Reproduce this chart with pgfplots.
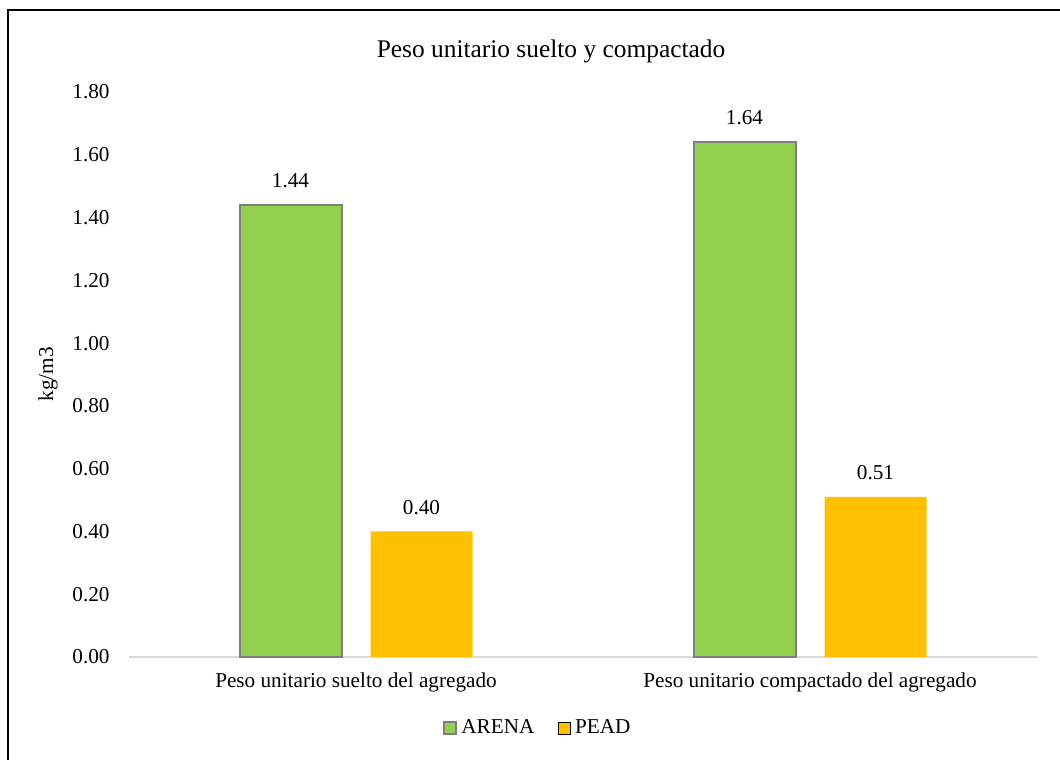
\documentclass[border=0pt]{standalone}
\usepackage{fontspec}
\setmainfont{Liberation Serif}
\usepackage{pgfplots}
\pgfplotsset{compat=1.18}
\definecolor{arena}{HTML}{92D050}
\definecolor{pead}{HTML}{FFC000}
\definecolor{bordegris}{HTML}{7F7F7F}
\definecolor{ejegris}{HTML}{D9D9D9}

\begin{document}
\fontsize{10.6pt}{12.7pt}\selectfont
\begin{tikzpicture}
\useasboundingbox (0,0) rectangle (530pt,380pt);
% chart frame (top and left edges)
\draw[line width=1pt] (3.75pt,0pt) -- (3.75pt,375pt) -- (530pt,375pt);
\begin{axis}[
  at={(64.5pt,51.5pt)}, anchor=south west,
  scale only axis, width=454pt, height=282.5pt,
  xmin=-0.5, xmax=1.5, ymin=0, ymax=1.8,
  ybar=14.5pt, bar width=51pt,
  xtick={0,1},
  xticklabels={Peso unitario suelto del agregado, Peso unitario compactado del agregado},
  ytick={0,0.2,0.4,0.6,0.8,1.0,1.2,1.4,1.6,1.8},
  /pgf/number format/.cd, fixed, fixed zerofill, precision=2, assume math mode=true,
  /pgfplots/.cd,
  major tick length=0pt,
  axis x line*=bottom, axis y line*=left,
  y axis line style={draw=none},
  x axis line style={draw=ejegris, line width=0.75pt, -},
  xticklabel style={anchor=base, yshift=-15.5pt},
  yticklabel style={xshift=-6pt},
  ylabel={kg/m3},
  ylabel style={at={(axis description cs:-0.089,0.5)}, anchor=center},
  title={Peso unitario suelto y compactado},
  title style={at={(axis description cs:0.4648,1.0602)}, anchor=base, yshift=-6pt,
    font=\fontsize{12.7pt}{15pt}\selectfont},
  nodes near coords,
  every node near coord/.append style={yshift=4.7pt, black},
  legend columns=2,
  legend style={draw=none, at={(axis description cs:0.4515,-0.1257)}, anchor=center,
    /tikz/every even column/.append style={column sep=10pt}},
  legend image code/.code={\draw[#1] (0pt,-3pt) rectangle (6pt,3pt);},
  clip=false,
]
\addplot[fill=arena, draw=bordegris, line width=1pt] coordinates {(0,1.44) (1,1.64)};
\addplot[fill=pead, draw=none] coordinates {(0,0.40) (1,0.51)};
\legend{ARENA, PEAD}
\end{axis}
\end{tikzpicture}
\end{document}
